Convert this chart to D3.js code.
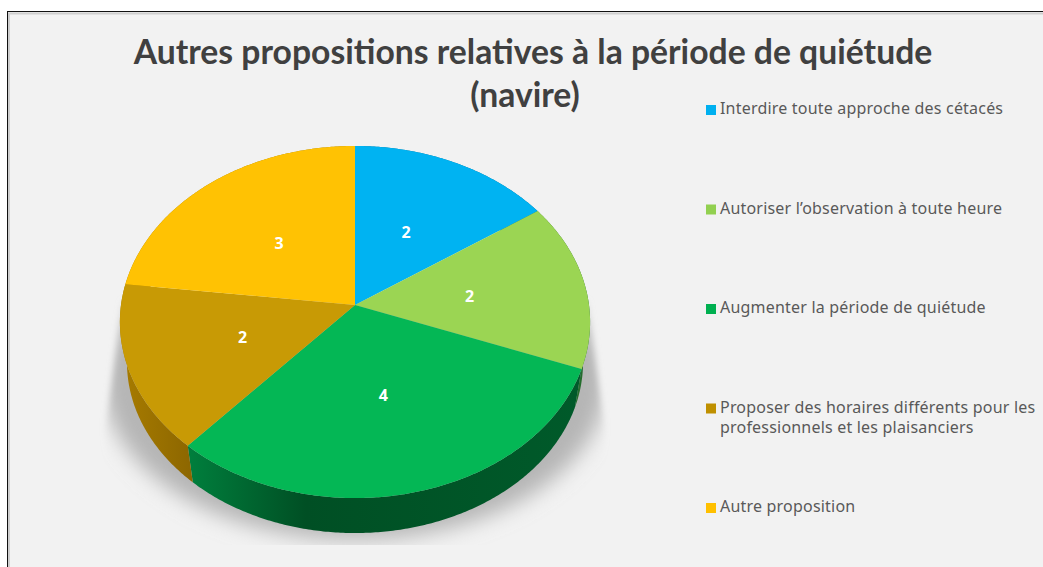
<!DOCTYPE html>
<html>
<head>
<meta charset="utf-8">
<script src="https://cdn.jsdelivr.net/npm/d3@7"></script>
<style>
    body { margin: 0; background: #fff; }
    svg { display: block; }
</style>
</head>
<body>
<div id="chart"></div>
<script>
var titleLines = ["Autres propositions relatives à la période de quiétude", "(navire)"];
var categories = [
    "Interdire toute approche des cétacés",
    "Autoriser l’observation à toute heure",
    "Augmenter la période de quiétude",
    "Proposer des horaires différents pour les professionnels et les plaisanciers",
    "Autre proposition"
];
var values = [2, 2, 4, 2, 3];
var legendColors = ["#00b0f0", "#92d050", "#00b050", "#bf9000", "#ffc000"];
var topColors = ["#00b3f2", "#9bd553", "#04b755", "#c89a05", "#ffc203"];
var wallColors = [
    ["#00709a", "#00709a"],
    ["#3f7a30", "#1f6a2c"],
    ["#007f3d", "#004f24", "#005a2a"],
    ["#a87c00", "#8c6600"],
    ["#a67c00", "#a67c00"]
];

var width = 1043;
var height = 567;

var svg = d3.select("#chart")
    .append("svg")
    .attr("width", width)
    .attr("height", height);

var defs = svg.append("defs");

// chart area
svg.append("rect")
    .attr("x", 7.5).attr("y", 11.5)
    .attr("width", width).attr("height", height)
    .attr("fill", "#f2f2f2")
    .attr("stroke", "#111");
svg.append("path")
    .attr("d", "M9,567V13.5H1043")
    .attr("fill", "none")
    .attr("stroke", "#cfcfcf")
    .attr("stroke-width", 2);

// the pie is a circle seen in perspective, far edge smaller than near edge
var tilt = 0.0966;
var x = d3.scaleLinear().domain([-1, 1]).range([121, 589]);
var y = d3.scaleLinear().domain([-1, 1]).range([479.4, 130.6]);

function project(angle, r, k, drop) {
    var u = r * Math.sin(angle);
    var v = r * Math.cos(angle);
    var w = 1 + tilt * v;
    return [x(k * u / w), y(k * v / w) + drop];
}

function rimAngles(d) {
    var n = Math.ceil((d.endAngle - d.startAngle) / 0.01);
    return d3.range(n + 1).map(function(i) {
        return d.startAngle + (d.endAngle - d.startAngle) * i / n;
    });
}

var line = d3.line();
var pie = d3.pie().sort(null);
var slices = pie(values);
var wallScale = 0.97;
var wallDrop = 40.8;

// shadow under the pie
defs.append("filter")
    .attr("id", "blur")
    .attr("x", "-20%").attr("y", "-20%")
    .attr("width", "140%").attr("height", "140%")
    .append("feGaussianBlur")
    .attr("stdDeviation", 10);
defs.append("filter")
    .attr("id", "soft")
    .attr("x", "-5%").attr("y", "-5%")
    .attr("width", "110%").attr("height", "110%")
    .append("feGaussianBlur")
    .attr("stdDeviation", 3);
defs.append("clipPath")
    .attr("id", "shadowClip")
    .append("path")
    .attr("d", "M122,300L106,425V560H604V425L588,300Z");
defs.append("clipPath")
    .attr("id", "floorClip")
    .append("rect")
    .attr("x", 0).attr("y", 0)
    .attr("width", width).attr("height", 545);

svg.append("g")
    .attr("clip-path", "url(#floorClip)")
    .append("g")
    .attr("filter", "url(#soft)")
    .append("g")
    .attr("clip-path", "url(#shadowClip)")
    .append("ellipse")
    .attr("cx", 355).attr("cy", 380)
    .attr("rx", 252).attr("ry", 160)
    .attr("fill", "#b5b5b5")
    .attr("filter", "url(#blur)");

// side wall
slices.forEach(function(d, i) {
    var grad = defs.append("linearGradient")
        .attr("id", "wall" + i);
    wallColors[i].forEach(function(c, j) {
        var offsets = wallColors[i].length == 3 ? [0, 0.3, 1] : [0, 1];
        grad.append("stop")
            .attr("offset", offsets[j])
            .attr("stop-color", c);
    });
    var angles = rimAngles(d);
    var top = angles.map(function(a) { return project(a, 1, 1, 0); });
    var bottom = angles.map(function(a) { return project(a, 1, wallScale, wallDrop); }).reverse();
    svg.append("path")
        .attr("d", line(top.concat(bottom)) + "Z")
        .attr("fill", "url(#wall" + i + ")");
});

// top face
svg.selectAll("path.slice")
    .data(slices)
    .enter()
    .append("path")
    .attr("class", "slice")
    .attr("d", function(d) {
        var pts = rimAngles(d).map(function(a) { return project(a, 1, 1, 0); });
        pts.unshift(project(0, 0, 1, 0));
        return line(pts) + "Z";
    })
    .attr("fill", function(d, i) { return topColors[i]; });

// value labels
svg.selectAll("text.value")
    .data(slices)
    .enter()
    .append("text")
    .attr("class", "value")
    .attr("x", function(d) { return project((d.startAngle + d.endAngle) / 2, 0.5, 1, 0)[0] - 1; })
    .attr("y", function(d) { return project((d.startAngle + d.endAngle) / 2, 0.5, 1, 0)[1] + 7; })
    .attr("text-anchor", "middle")
    .style("font-family", "'Open Sans', sans-serif")
    .style("font-weight", "bold")
    .style("font-size", "16px")
    .attr("fill", "#fff")
    .text(function(d) { return d.data; });

// title
var titleX = [533, 525];
var titleY = [64, 107];
titleLines.forEach(function(t, i) {
    svg.append("text")
        .attr("x", titleX[i])
        .attr("y", titleY[i])
        .attr("text-anchor", "middle")
        .style("font-family", "Lato, sans-serif")
        .style("font-weight", "bold")
        .style("font-size", "33.7px")
        .attr("fill", "#404040")
        .text(t);
});

// legend
var legendY = d3.scalePoint().domain(categories).range([114, 512]);

categories.forEach(function(c, i) {
    var y0 = legendY(c);
    svg.append("rect")
        .attr("x", 706)
        .attr("y", y0 - 9)
        .attr("width", 10)
        .attr("height", 10)
        .attr("fill", legendColors[i]);

    var label = svg.append("text")
        .style("font-family", "'Noto Sans', sans-serif")
        .style("font-size", "16px")
        .style("letter-spacing", "0.2px")
        .attr("fill", "#595959");

    // wrap on the legend width
    var words = c.split(" ");
    var current = [];
    var row = 0;
    var tspan = label.append("tspan").attr("x", 720).attr("y", y0);
    words.forEach(function(word) {
        current.push(word);
        tspan.text(current.join(" "));
        if (tspan.node().getComputedTextLength() > 322) {
            current.pop();
            tspan.text(current.join(" "));
            current = [word];
            row++;
            tspan = label.append("tspan").attr("x", 720).attr("y", y0 + row * 20).text(word);
        }
    });
});
</script>
</body>
</html>
